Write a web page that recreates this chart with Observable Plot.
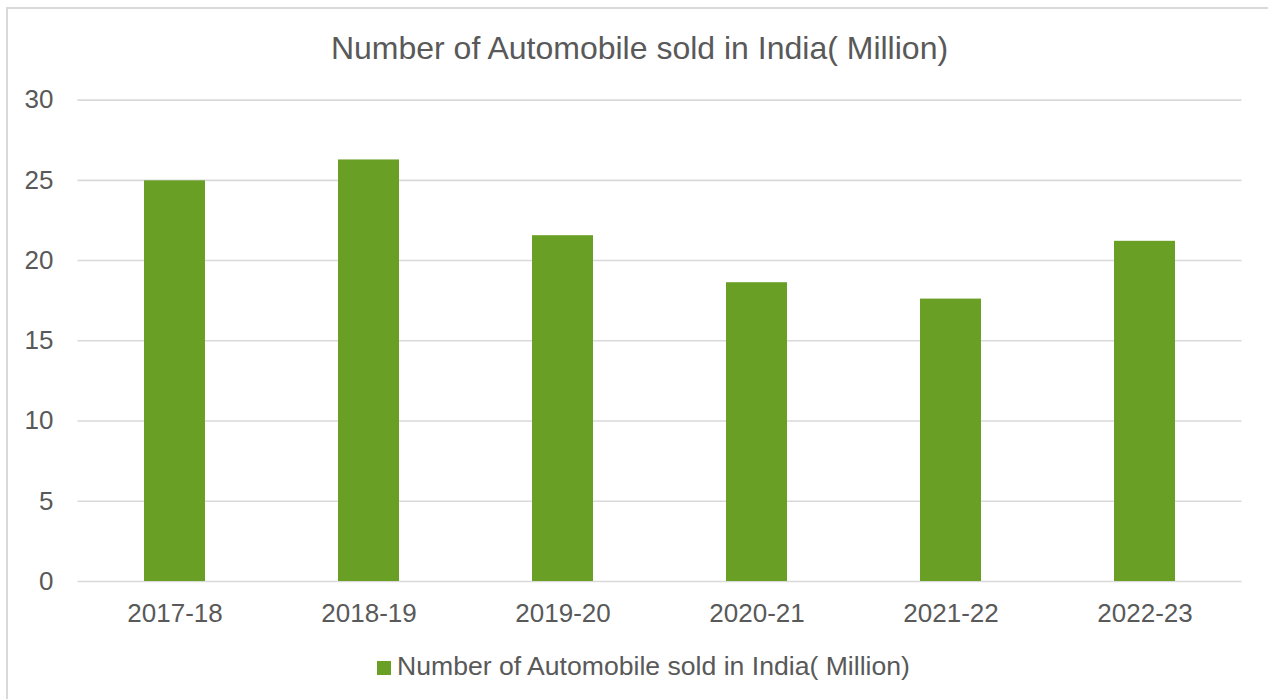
<!DOCTYPE html>
<html>
<head>
<meta charset="utf-8">
<script src="https://cdn.jsdelivr.net/npm/d3@7"></script>
<script src="https://cdn.jsdelivr.net/npm/@observablehq/plot@0.6"></script>
<style>
  html, body { margin: 0; padding: 0; background: #fff; overflow: hidden; }
  #wrap { position: relative; width: 1268px; height: 699px; overflow: hidden; font-family: "Liberation Sans", Arial, sans-serif; color: #595959; }
  #frame { position: absolute; left: 6px; top: 7px; width: 1300px; height: 760px; border: 2px solid #d9d9d9; box-sizing: border-box; }
  #title { position: absolute; left: 7px; width: 1265px; top: 32px; text-align: center; font-size: 32px; line-height: 32px; white-space: nowrap; }
  #chart { position: absolute; left: 0; top: 75px; }
  #legend { position: absolute; left: 377px; top: 653px; font-size: 26.6px; line-height: 26px; white-space: nowrap; }
  #legend .sw { display: inline-block; width: 14px; height: 14px; background: #6a9f26; margin-right: 6px; vertical-align: baseline; }
</style>
</head>
<body>
<div id="wrap">
  <div id="frame"></div>
  <div id="title"></div>
  <div id="chart"></div>
  <div id="legend"></div>
</div>
<script>
const titleText = "Number of Automobile sold in India( Million)";
const seriesName = "Number of Automobile sold in India( Million)";
const years = ["2017-18", "2018-19", "2019-20", "2020-21", "2021-22", "2022-23"];
const sales = [24.97, 26.27, 21.55, 18.62, 17.6, 21.2];
const yTicks = [0, 5, 10, 15, 20, 25, 30];
const barColor = "#6a9f26";

const data = years.map((y, i) => ({year: y, value: sales[i]}));

document.getElementById("title").textContent = titleText;
const leg = document.getElementById("legend");
const sw = document.createElement("span"); sw.className = "sw";
leg.appendChild(sw);
leg.appendChild(document.createTextNode(seriesName));

const chart = Plot.plot({
  width: 1268,
  height: 570,
  marginLeft: 77.5,
  marginRight: 26.5,
  marginTop: 24.6,
  marginBottom: 64,
  style: {fontFamily: "'Liberation Sans', Arial, sans-serif", fontSize: "26px", color: "#595959", background: "transparent", overflow: "visible"},
  x: {domain: years, paddingInner: 0.686, paddingOuter: 0.343, label: null},
  y: {domain: [0, 30], label: null},
  marks: [
    Plot.ruleY(yTicks, {stroke: "#d9d9d9", strokeWidth: 1.6}),
    Plot.barY(data, {x: "year", y: "value", fill: barColor}),
    Plot.axisX({tickSize: 0, tickPadding: 22.5, fontSize: 26, label: null}),
    Plot.axisY({ticks: yTicks, tickSize: 0, tickPadding: 24.5, fontSize: 26, label: null})
  ]
});
document.getElementById("chart").appendChild(chart);
</script>
</body>
</html>
